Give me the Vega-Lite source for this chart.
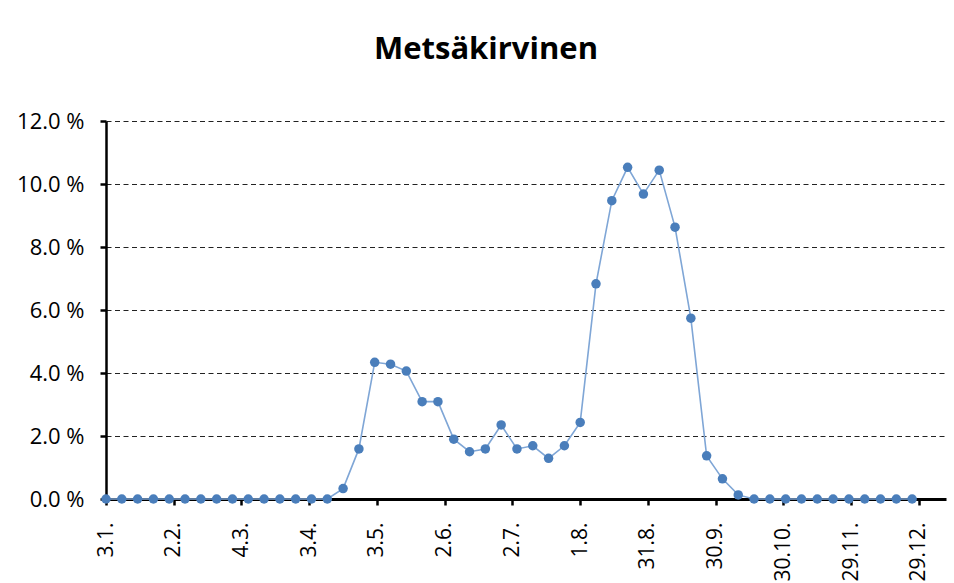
{
  "$schema": "https://vega.github.io/schema/vega-lite/v6.json",
  "autosize": "none",
  "width": 840,
  "height": 378,
  "padding": {"left": 106, "top": 121, "right": 8, "bottom": 84},
  "background": "white",
  "title": {
    "text": "Metsäkirvinen",
    "font": "Open Sans",
    "fontSize": 31,
    "fontWeight": "bold",
    "color": "#000000",
    "anchor": "middle",
    "frame": "group",
    "dx": -40,
    "baseline": "alphabetic",
    "offset": 20
  },
  "data": {
    "values": [
      {"date": "2023-01-03", "pct": 0},
      {"date": "2023-01-10", "pct": 0},
      {"date": "2023-01-17", "pct": 0},
      {"date": "2023-01-24", "pct": 0},
      {"date": "2023-01-31", "pct": 0},
      {"date": "2023-02-07", "pct": 0},
      {"date": "2023-02-14", "pct": 0},
      {"date": "2023-02-21", "pct": 0},
      {"date": "2023-02-28", "pct": 0},
      {"date": "2023-03-07", "pct": 0},
      {"date": "2023-03-14", "pct": 0},
      {"date": "2023-03-21", "pct": 0},
      {"date": "2023-03-28", "pct": 0},
      {"date": "2023-04-04", "pct": 0},
      {"date": "2023-04-11", "pct": 0},
      {"date": "2023-04-18", "pct": 0.33},
      {"date": "2023-04-25", "pct": 1.59},
      {"date": "2023-05-02", "pct": 4.34},
      {"date": "2023-05-09", "pct": 4.28},
      {"date": "2023-05-16", "pct": 4.06},
      {"date": "2023-05-23", "pct": 3.09},
      {"date": "2023-05-30", "pct": 3.09},
      {"date": "2023-06-06", "pct": 1.9},
      {"date": "2023-06-13", "pct": 1.5},
      {"date": "2023-06-20", "pct": 1.59},
      {"date": "2023-06-27", "pct": 2.35},
      {"date": "2023-07-04", "pct": 1.59},
      {"date": "2023-07-11", "pct": 1.69},
      {"date": "2023-07-18", "pct": 1.29},
      {"date": "2023-07-25", "pct": 1.69},
      {"date": "2023-08-01", "pct": 2.43},
      {"date": "2023-08-08", "pct": 6.83},
      {"date": "2023-08-15", "pct": 9.47},
      {"date": "2023-08-22", "pct": 10.53},
      {"date": "2023-08-29", "pct": 9.68},
      {"date": "2023-09-05", "pct": 10.44},
      {"date": "2023-09-12", "pct": 8.63},
      {"date": "2023-09-19", "pct": 5.74},
      {"date": "2023-09-26", "pct": 1.37},
      {"date": "2023-10-03", "pct": 0.64},
      {"date": "2023-10-10", "pct": 0.13},
      {"date": "2023-10-17", "pct": 0},
      {"date": "2023-10-24", "pct": 0},
      {"date": "2023-10-31", "pct": 0},
      {"date": "2023-11-07", "pct": 0},
      {"date": "2023-11-14", "pct": 0},
      {"date": "2023-11-21", "pct": 0},
      {"date": "2023-11-28", "pct": 0},
      {"date": "2023-12-05", "pct": 0},
      {"date": "2023-12-12", "pct": 0},
      {"date": "2023-12-19", "pct": 0},
      {"date": "2023-12-26", "pct": 0}
    ]
  },
  "encoding": {
    "x": {
      "field": "date",
      "type": "temporal",
      "title": null,
      "scale": {
        "type": "utc",
        "domain": [
          {"year": 2023, "month": 1, "date": 3, "utc": true},
          {"year": 2024, "month": 1, "date": 10, "utc": true}
        ],
        "nice": false
      },
      "axis": {
        "values": [
          {"year": 2023, "month": 1, "date": 3, "utc": true},
          {"year": 2023, "month": 2, "date": 2, "utc": true},
          {"year": 2023, "month": 3, "date": 4, "utc": true},
          {"year": 2023, "month": 4, "date": 3, "utc": true},
          {"year": 2023, "month": 5, "date": 3, "utc": true},
          {"year": 2023, "month": 6, "date": 2, "utc": true},
          {"year": 2023, "month": 7, "date": 2, "utc": true},
          {"year": 2023, "month": 8, "date": 1, "utc": true},
          {"year": 2023, "month": 8, "date": 31, "utc": true},
          {"year": 2023, "month": 9, "date": 30, "utc": true},
          {"year": 2023, "month": 10, "date": 30, "utc": true},
          {"year": 2023, "month": 11, "date": 29, "utc": true},
          {"year": 2023, "month": 12, "date": 29, "utc": true}
        ],
        "labelExpr": "utcFormat(datum.value, '%-d.%-m.')",
        "labelAngle": -90,
        "labelFont": "Open Sans",
        "labelFontSize": 21,
        "labelColor": "#000000",
        "labelPadding": 17,
        "labelOverlap": false,
        "labelFlush": false,
        "labelBound": false,
        "domainColor": "#000000",
        "domainWidth": 3,
        "tickColor": "#000000",
        "tickWidth": 2.5,
        "tickSize": 6,
        "grid": false
      }
    },
    "y": {
      "field": "pct",
      "type": "quantitative",
      "title": null,
      "scale": {"domain": [0, 12], "nice": false, "zero": true},
      "axis": {
        "values": [0, 2, 4, 6, 8, 10, 12],
        "labelExpr": "format(datum.value, '.1f') + ' %'",
        "labelFont": "Open Sans",
        "labelFontSize": 22,
        "labelColor": "#000000",
        "labelPadding": 16,
        "labelFlush": false,
        "labelBound": false,
        "domainColor": "#000000",
        "domainWidth": 2.5,
        "tickColor": "#000000",
        "tickWidth": 2.5,
        "tickSize": 6,
        "grid": true,
        "gridColor": "#222222",
        "gridWidth": 1,
        "gridDash": [5, 3.5]
      }
    }
  },
  "layer": [
    {
      "mark": {"type": "line", "color": "#7fa6d6", "strokeWidth": 1.6, "clip": false}
    },
    {
      "mark": {"type": "circle", "color": "#4a7ebb", "opacity": 1, "size": 90, "clip": false}
    }
  ],
  "config": {
    "view": {"stroke": null}
  }
}
